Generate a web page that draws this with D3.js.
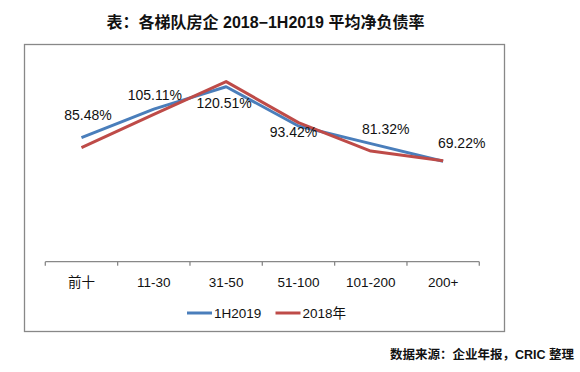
<!DOCTYPE html>
<html>
<head>
<meta charset="utf-8">
<script src="https://cdn.jsdelivr.net/npm/d3@7"></script>
<style>
  html, body { margin: 0; padding: 0; background: #fff; }
  svg { display: block; }
  text { font-family: "Liberation Sans", Arial, "Noto Sans CJK SC", sans-serif; fill: #111; }
</style>
</head>
<body>
<svg id="chart" width="580" height="372"></svg>
<script>
const categories = ["前十", "11-30", "31-50", "51-100", "101-200", "200+"];
const values1H2019 = [85.48, 105.11, 120.51, 93.42, 81.32, 69.22];
const values2018 = [78.5, 101.5, 124.0, 95.8, 76.2, 69.5];
const seriesNames = ["1H2019", "2018年"];
const titleText = "表：各梯队房企 2018−1H2019 平均净负债率";
const sourceText = "数据来源：企业年报，CRIC 整理";

// layout (label offsets relative to each point)
const labelOffsets = [[6.5, -22.5], [1, -14], [-2, 16], [-5, 6], [15, -14.5], [18.5, -18.5]];
const colors = ["#4A7EBB", "#BE4B48"];

const svg = d3.select("#chart");

// title
svg.append("text")
  .attr("x", 265.5).attr("y", 22)
  .attr("text-anchor", "middle").attr("dominant-baseline", "central")
  .style("font-size", "16px").style("font-weight", "bold")
  .text(titleText);

// chart frame
svg.append("rect")
  .attr("x", 24.5).attr("y", 44.5).attr("width", 480).attr("height", 287)
  .attr("fill", "#fff").attr("stroke", "#888").attr("stroke-width", 1.3);

const x = d3.scaleBand().domain(categories).range([45.3, 479.3]);
const y = d3.scaleLinear().domain([0, 140]).range([261.7, 58.4]);

// x axis
const axisG = svg.append("g").attr("transform", `translate(0,${y(0)})`);
axisG.append("line")
  .attr("x1", x.range()[0]).attr("x2", x.range()[1])
  .attr("stroke", "#888").attr("stroke-width", 1.3);
const tickPos = categories.map(c => x(c)).concat([x.range()[1]]);
axisG.selectAll("line.tick").data(tickPos).enter().append("line")
  .attr("class", "tick")
  .attr("x1", d => d).attr("x2", d => d)
  .attr("y1", 0).attr("y2", 4)
  .attr("stroke", "#888").attr("stroke-width", 1.3);
axisG.selectAll("text.cat").data(categories).enter().append("text")
  .attr("class", "cat")
  .attr("x", d => x(d) + x.bandwidth() / 2)
  .attr("y", 20.5)
  .attr("text-anchor", "middle").attr("dominant-baseline", "central")
  .style("font-size", "13.5px")
  .text(d => d);

const line = d3.line()
  .x((d, i) => x(categories[i]) + x.bandwidth() / 2)
  .y(d => y(d));

[values1H2019, values2018].forEach((vals, k) => {
  svg.append("path")
    .datum(vals)
    .attr("d", line)
    .attr("fill", "none")
    .attr("stroke", colors[k])
    .attr("stroke-width", 3)
    .attr("stroke-linejoin", "round");
});

// data labels for 1H2019
svg.selectAll("text.lbl").data(values1H2019).enter().append("text")
  .attr("class", "lbl")
  .attr("x", (d, i) => x(categories[i]) + x.bandwidth() / 2 + labelOffsets[i][0])
  .attr("y", (d, i) => y(d) + labelOffsets[i][1])
  .attr("text-anchor", "middle").attr("dominant-baseline", "central")
  .style("font-size", "14px")
  .text(d => d.toFixed(2) + "%");

// legend
const legendItems = [
  { name: seriesNames[0], color: colors[0], x0: 187 },
  { name: seriesNames[1], color: colors[1], x0: 275.5 }
];
const lg = svg.append("g");
legendItems.forEach(it => {
  lg.append("line")
    .attr("x1", it.x0).attr("x2", it.x0 + 25)
    .attr("y1", 313).attr("y2", 313)
    .attr("stroke", it.color).attr("stroke-width", 3);
  lg.append("text")
    .attr("x", it.x0 + 27).attr("y", 313)
    .attr("dominant-baseline", "central")
    .style("font-size", "13.5px")
    .text(it.name);
});

// source
svg.append("text")
  .attr("x", 574).attr("y", 355)
  .attr("text-anchor", "end").attr("dominant-baseline", "central")
  .style("font-size", "12.5px").style("font-weight", "bold")
  .text(sourceText);
</script>
</body>
</html>
